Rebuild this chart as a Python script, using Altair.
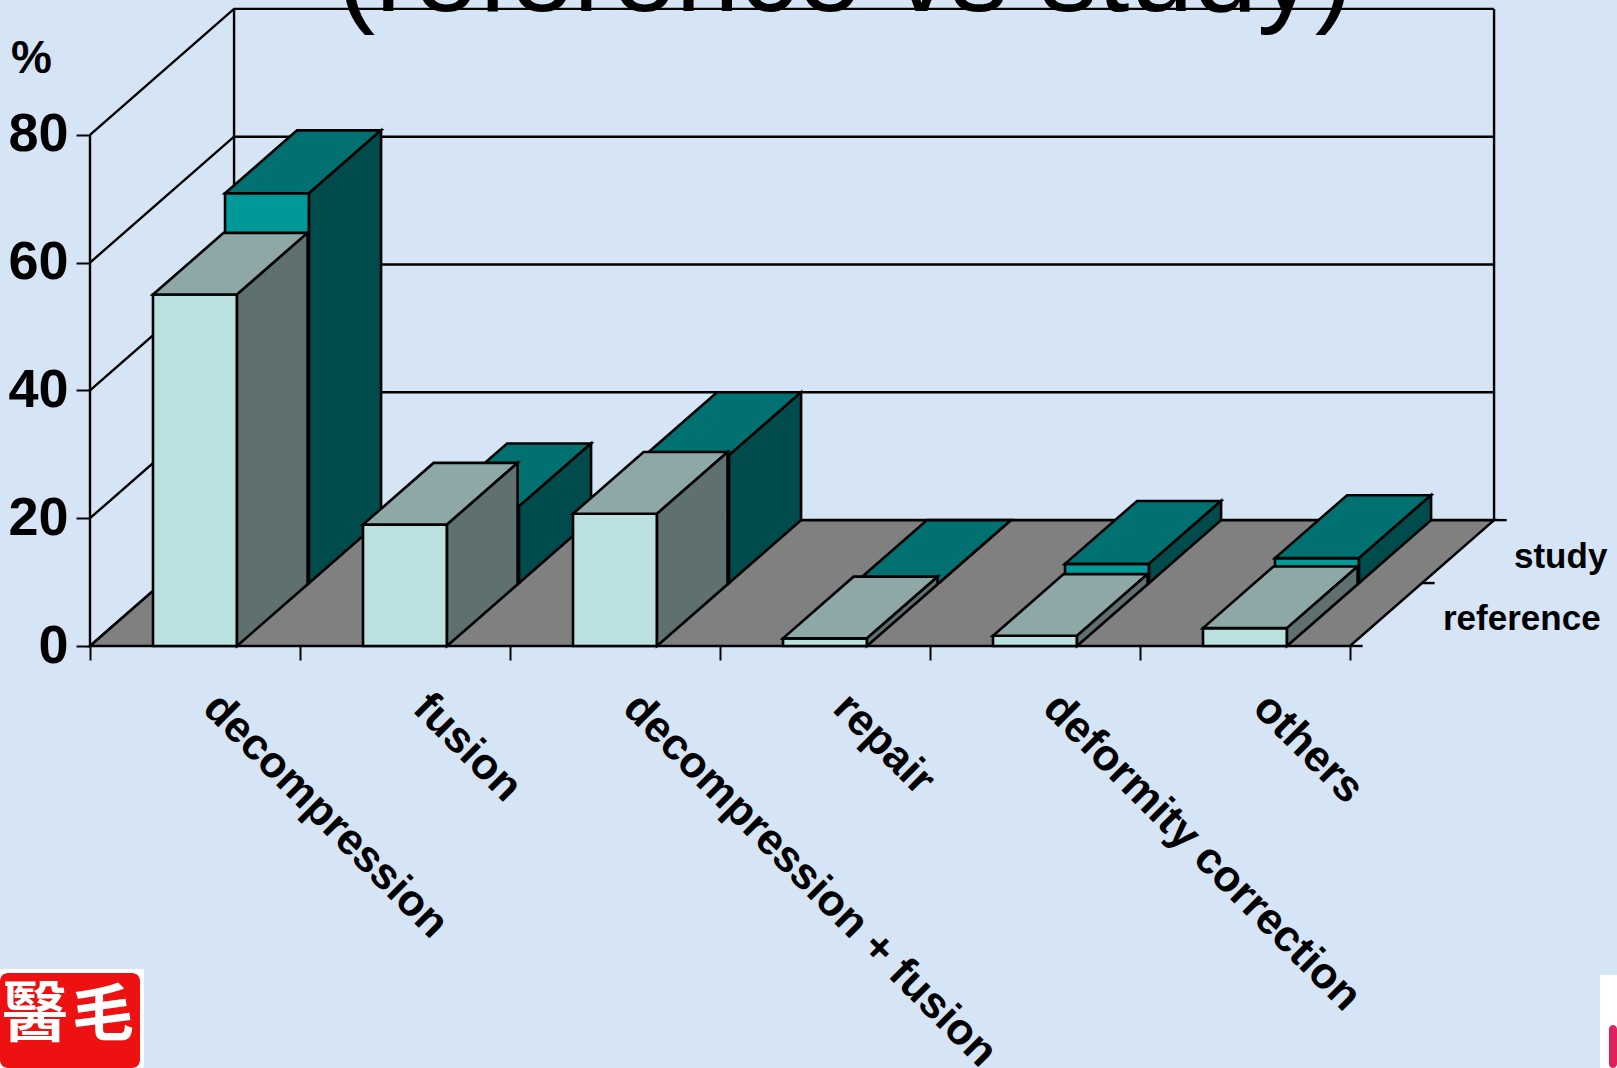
import altair as alt
import pandas as pd

# Chart values (percent)
categories = ["decompression", "fusion", "decompression + fusion", "repair", "deformity correction", "others"]
reference = [55, 19, 20.7, 1.2, 1.6, 2.8]
study = [61, 12, 20, 0, 3, 3.9]
y_ticks = [0, 20, 40, 60, 80]

# Oblique projection: full depth of the box in axis units
DEPTH_X = 0.686
DEPTH_Y = 19.7
BAR_START = 0.30
BAR_WIDTH = 0.40

WIDTH, HEIGHT = 1617, 1068
PX_X = 210.0   # pixels per category
PX_Y = 6.39    # pixels per percent
X_DOMAIN = [-90 / PX_X, (WIDTH - 90) / PX_X]
Y_DOMAIN = [-(HEIGHT - 646) / PX_Y, 646 / PX_Y]
x_scale = alt.Scale(domain=X_DOMAIN, range=[0, WIDTH], nice=False, zero=False)
y_scale = alt.Scale(domain=Y_DOMAIN, range=[HEIGHT, 0], nice=False, zero=False)

n = len(categories)
FONT = "Liberation Sans"

x_axis = alt.Axis(
    orient="bottom", offset=-(HEIGHT - 646), values=list(range(n + 1)), labels=False, title=None,
    domain=False, grid=False, tickSize=14, tickWidth=2, tickColor="black",
)
y_axis = alt.Axis(
    orient="left", offset=-90, values=y_ticks, domain=False, grid=False, title=None, tickSize=14,
    tickWidth=2, tickColor="black", labelFont=FONT, labelFontWeight="bold", labelFontSize=54,
    labelColor="black", labelPadding=8, labelBaseline="middle",
)
X_ENC = alt.X("x:Q", scale=x_scale, axis=x_axis)
Y_ENC = alt.Y("y:Q", scale=y_scale, axis=y_axis)


def project(x, v, z):
    return x + z * DEPTH_X, v + z * DEPTH_Y


def polygons(faces):
    rows = []
    for key, pts in faces:
        for k, (x, v, z) in enumerate(list(pts) + [pts[0], pts[1]]):
            px, py = project(x, v, z)
            rows.append({"key": key, "ord": k, "x": px, "y": py})
    return pd.DataFrame(rows)


def poly_layer(faces, fill, sw=2.6):
    return alt.Chart(polygons(faces)).mark_line(
        fill=fill, stroke="black", strokeWidth=sw, strokeJoin="miter", clip=True
    ).encode(x=X_ENC, y=Y_ENC, detail="key:N", order="ord:Q")


def path_layer(paths, sw=2.4):
    rows = []
    for key, pts in enumerate(paths):
        for k, (x, v, z) in enumerate(pts):
            px, py = project(x, v, z)
            rows.append({"key": key, "ord": k, "x": px, "y": py})
    return alt.Chart(pd.DataFrame(rows)).mark_line(color="black", strokeWidth=sw).encode(
        x=X_ENC, y=Y_ENC, detail="key:N", order="ord:Q",
    )


def bar_faces(values, z0, z1):
    front, top, side = [], [], []
    for i, v in enumerate(values):
        a = i + BAR_START
        b = a + BAR_WIDTH
        front.append((i, [(a, 0, z0), (b, 0, z0), (b, v, z0), (a, v, z0)]))
        top.append((i, [(a, v, z0), (b, v, z0), (b, v, z1), (a, v, z1)]))
        side.append((i, [(b, 0, z0), (b, 0, z1), (b, v, z1), (b, v, z0)]))
    return front, top, side


# Back wall grid, box edges and depth ticks
grid_paths = [[(0, v, 0), (0, v, 1), (n, v, 1)] for v in y_ticks]
edge_paths = [
    [(0, 0, 0), (0, 80, 0)],
    [(0, 0, 1), (0, 80, 1)],
    [(n, 0, 1), (n, 80, 1)],
]
tick_paths = [[(n, 0, z), (n + 0.06, 0, z)] for z in (0, 0.5, 1)]

floor = poly_layer([(0, [(0, 0, 0), (n, 0, 0), (n, 0, 1), (0, 0, 1)])], "#808080")

s_front, s_top, s_side = bar_faces(study, 0.5, 1)
r_front, r_top, r_side = bar_faces(reference, 0, 0.49)

# Category labels running down from each slot
cat_labels = alt.Chart(pd.DataFrame({"name": categories, "x": [i + 0.5 for i in range(n)], "y": [0] * n})).mark_text(
    font=FONT, fontWeight="bold", fontSize=44, angle=45, align="left", baseline="middle",
    color="black", dx=50, dy=28,
).encode(x=X_ENC, y=Y_ENC, text="name:N")


def text_at(text, x, y, size, weight="bold", align="left", color="black", font=FONT):
    return alt.Chart(pd.DataFrame({"t": [text]})).mark_text(
        font=font, fontWeight=weight, fontSize=size, align=align, baseline="alphabetic", color=color,
    ).encode(x=alt.value(x), y=alt.value(y), text="t:N")


def box_at(x, y, x2, y2, color, radius=0):
    return alt.Chart(pd.DataFrame({"a": [0]})).mark_rect(color=color, cornerRadius=radius).encode(
        x=alt.value(x), x2=alt.value(x2), y=alt.value(y), y2=alt.value(y2)
    )


CJK = "Noto Sans CJK TC"
layers = [
    text_at("(reference  vs study)", 845, 11, 115, weight="normal", align="center"),
    path_layer(grid_paths),
    path_layer(edge_paths),
    path_layer(tick_paths),
    floor,
    poly_layer(s_front, "#009999"),
    poly_layer(s_top, "#007070"),
    poly_layer(s_side, "#004C4C"),
    poly_layer(r_front, "#BBE0E0"),
    poly_layer(r_top, "#8EA8A8"),
    poly_layer(r_side, "#5F7070"),
    cat_labels,
    text_at("study", 1514, 568, 35),
    text_at("reference", 1443, 630, 35),
    text_at("%", 11, 73, 46),
    # Seal in the lower left corner
    box_at(0, 969, 144, 1068, "white"),
    box_at(0, 973, 140, 1068, "#EE1111", 8),
    text_at("醫", 2, 1036, 66, font=CJK, color="white"),
    text_at("毛", 72, 1036, 62, font=CJK, color="white"),
    # Edge of a second seal at the right border
    box_at(1600, 975, 1617, 1068, "white"),
    box_at(1609, 1025, 1617, 1068, "#E0205A", 6),
]

chart = alt.layer(*layers).properties(
    width=WIDTH, height=HEIGHT, padding=0, autosize=alt.AutoSizeParams(type="none"),
    background="#D6E5F6",
).configure_view(stroke=None)

chart.save("out.html", embed_options={"renderer": "svg", "actions": False})
